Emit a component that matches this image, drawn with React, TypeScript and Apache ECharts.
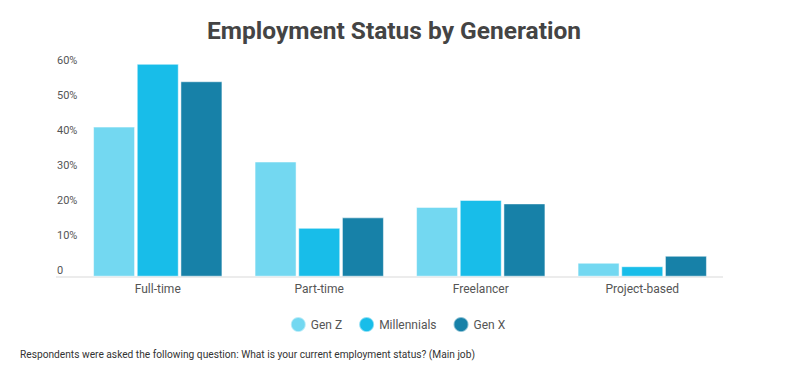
import React, { useEffect, useRef } from "react";
import * as echarts from "echarts";

const categories = ["Full-time", "Part-time", "Freelancer", "Project-based"];
const genZ = [43, 33, 20, 4];
const millennials = [61, 14, 22, 3];
const genX = [56, 17, 21, 6];
const seriesNames = ["Gen Z", "Millennials", "Gen X"];
const colors = ["#73d8f1", "#18bde9", "#1781a8"];

const FONT = "Roboto, 'Noto Sans', sans-serif";

export default function App() {
  const ref = useRef<HTMLDivElement>(null);
  useEffect(() => {
    if (!ref.current) return;
    const chart = echarts.init(ref.current, undefined, { renderer: "svg" });
    const values = [genZ, millennials, genX];
    chart.setOption({
      animation: false,
      backgroundColor: "#ffffff",
      textStyle: { fontFamily: FONT },
      title: {
        text: "Employment Status by Generation",
        left: 202,
        top: 13,
        textStyle: { fontFamily: FONT, fontSize: 24.5, fontWeight: "bold", color: "#444444" },
      },
      grid: { left: 77, right: 72, top: 63.8, bottom: 89.3, containLabel: false },
      legend: {
        bottom: 28,
        left: "center",
        icon: "circle",
        itemWidth: 15,
        itemHeight: 15,
        itemGap: 16,
        textStyle: { fontFamily: FONT, fontSize: 12, color: "#555555" },
        data: seriesNames,
      },
      xAxis: {
        type: "category",
        data: categories,
        axisLine: { show: false },
        axisTick: { show: false },
        axisLabel: { fontFamily: FONT, fontSize: 12, color: "#555555", margin: 6 },
      },
      yAxis: {
        type: "value",
        min: 0,
        max: 61,
        interval: 10,
        splitLine: { show: false },
        axisLine: { show: false },
        axisTick: { show: false },
        axisLabel: {
          showMaxLabel: false,
          align: "left",
          verticalAlign: "bottom",
          margin: 20,
          padding: [0, 0, 1, 0],
          fontFamily: FONT,
          fontSize: 11,
          color: "#555555",
          formatter: (v: number) => (v === 0 ? "0" : v + "%"),
        },
      },
      graphic: [
        {
          type: "rect",
          shape: { x: 56, y: 276, width: 667, height: 2 },
          style: { fill: "#ececec" },
          silent: true,
          z: 0,
        },
        {
          type: "text",
          left: 20,
          top: 349,
          style: {
            text: "Respondents were asked the following question: What is your current employment status? (Main job)",
            fontFamily: FONT,
            fontSize: 10.2,
            fill: "#333333",
          },
        },
      ],
      series: seriesNames.map((name, i) => ({
        name,
        type: "bar",
        data: values[i],
        barWidth: 42,
        barGap: "4%",
        itemStyle: { color: colors[i], borderColor: "rgba(255,255,255,0.5)", borderWidth: 1 },
        z: 2,
      })),
    });
    return () => chart.dispose();
  }, []);
  return <div ref={ref} style={{ width: 795, height: 366, position: "absolute", left: 0, top: 0 }} />;
}
